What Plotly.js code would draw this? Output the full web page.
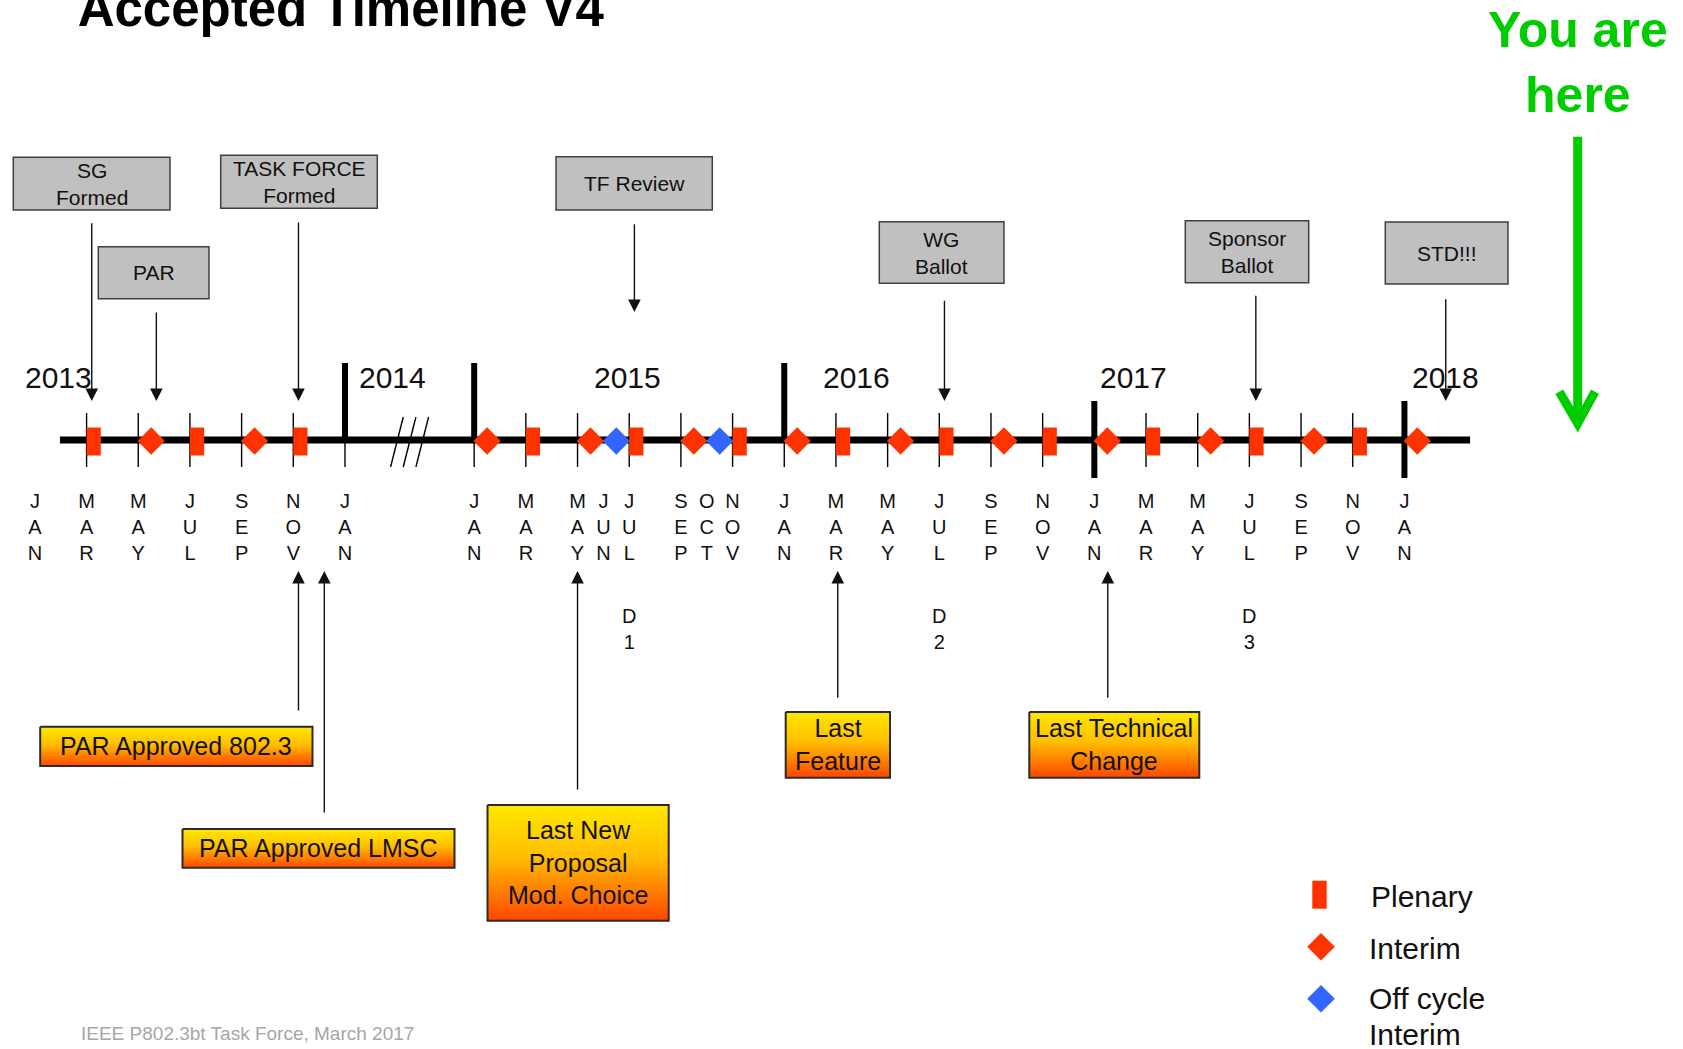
<!DOCTYPE html>
<html><head><meta charset="utf-8">
<script src="https://cdn.plot.ly/plotly-3.0.1.min.js"></script>
<style>html,body{margin:0;padding:0;background:#fff}#chart{width:1683px;height:1049px}</style>
</head><body><div id="chart"></div>
<script>
// ---------------- data ----------------
// timeline position in months (Jan 2013 = 0; the 2014 gap is compressed: Jan 2015 = 17)
const monthPositions = [0,2,4,6,8,10,12,17,19,21,22,23,25,26,27,29,31,33,35,37,39,41,43,45,47,49,51,53];
const monthLabels = ['JAN','MAR','MAY','JUL','SEP','NOV','JAN','JAN','MAR','MAY','JUN','JUL','SEP','OCT','NOV',
                     'JAN','MAR','MAY','JUL','SEP','NOV','JAN','MAR','MAY','JUL','SEP','NOV','JAN'];
const tickMonths = [2,4,6,8,10,12,17,19,21,23,25,27,29,31,33,35,37,39,43,45,47,49,51];
const yearBoundaryAbove = [12,17,29];
const yearBoundaryThrough = [41,53];
const years = ['2013','2014','2015','2016','2017','2018'];
const yearLabelMonths = [0.93,13.84,22.95,31.8,42.53,54.6];
const plenaryMonths = [2,6,10,19,23,27,31,35,39,43,47,51];
const interimMonths = [4.5,8.5,17.5,21.5,25.5,29.5,33.5,37.5,41.5,45.5,49.5,53.5];
const offCycleMonths = [22.5,26.5];
const drafts = ['D1','D2','D3'];
const draftMonths = [23,35,47];
const topMilestones = ['SG<br>Formed','PAR','TASK FORCE<br>Formed','TF Review','WG<br>Ballot','Sponsor<br>Ballot','STD!!!'];
const topMilestoneMonths = [2.2,4.7,10.2,23.2,35.2,47.25,54.6];
const bottomMilestones = ['PAR Approved 802.3','PAR Approved LMSC','Last New<br>Proposal<br>Mod. Choice','Last<br>Feature','Last Technical<br>Change'];
const bottomMilestoneMonths = [10.2,11.2,21,31.07,41.52];
const legendNames = ['Plenary','Interim','Off cycle','Interim'];

// ---------------- layout geometry (pixels) ----------------
const W = 1683, H = 1049;
const X0 = 34.9, K = 25.84;             // pixel of month 0, pixels per month
const P = px => (px - X0) / K;          // pixel -> month units
const PX = px => px / W;                // pixel -> paper x
const LINE_Y = 440;
const RED = '#ff3300', BLUE = '#3366ff';
const FONT = 'Liberation Sans, Arial, sans-serif';

// [x0, x1, y0, y1, arrowTail, arrowTip]
const topBoxes = [
  [13.3,170,157.3,210,221.7,401],
  [98.3,209,246.7,298.7,311,401],
  [220.7,377.3,155.3,208.3,221,401],
  [556,712.3,156.7,210,222.7,312],
  [879.3,1004,221.7,283.3,299.3,401],
  [1185.3,1308.7,220.7,282.7,294.3,401],
  [1385.3,1508,222,284,297.7,401]
];
const bottomBoxes = [
  [40.2,312.5,726.7,766,712,571],
  [182.5,454.5,829,867.7,814,571],
  [487.5,668.7,805,920.7,791,571],
  [785.7,890,712,777.7,699.3,571],
  [1029.3,1199.3,712,777.7,699.3,571]
];

const shapes = [];
const annotations = [];

// main timeline line
shapes.push({type:'line', xref:'x', yref:'y', x0:0.97, x1:55.54, y0:LINE_Y, y1:LINE_Y,
  line:{color:'#000', width:7}, layer:'below'});
// month ticks
tickMonths.forEach(m => shapes.push({type:'line', xref:'x', yref:'y', x0:m, x1:m, y0:413, y1:467,
  line:{color:'#000', width:1.4}, layer:'below'}));
yearBoundaryAbove.forEach(m => shapes.push({type:'line', xref:'x', yref:'y', x0:m, x1:m, y0:363, y1:LINE_Y,
  line:{color:'#000', width:6}, layer:'below'}));
yearBoundaryThrough.forEach(m => shapes.push({type:'line', xref:'x', yref:'y', x0:m, x1:m, y0:401, y1:478,
  line:{color:'#000', width:6}, layer:'below'}));
// axis break slashes, centred in the gap between Jan 2014 and Jan 2015
const breakMid = (12 + 17) / 2;
[-0.49, 0, 0.49].forEach(d => shapes.push({type:'line', xref:'x', yref:'y',
  x0:breakMid + d - 0.245, y0:467, x1:breakMid + d + 0.245, y1:417, line:{color:'#000', width:1.4}, layer:'below'}));

// top grey boxes + arrows
topBoxes.forEach((b, i) => {
  shapes.push({type:'rect', xref:'paper', yref:'y', x0:PX(b[0]), x1:PX(b[1]), y0:b[2], y1:b[3],
    fillcolor:'#c0c0c0', line:{color:'#404040', width:1.5}, layer:'above'});
  annotations.push({xref:'paper', yref:'y', x:PX((b[0]+b[1])/2), y:(b[2]+b[3])/2, text:topMilestones[i],
    showarrow:false, font:{family:FONT, size:21, color:'#111'}, xanchor:'center', yanchor:'middle'});
  annotations.push({xref:'x', yref:'y', axref:'x', ayref:'y', x:topMilestoneMonths[i], y:b[5],
    ax:topMilestoneMonths[i], ay:b[4], text:'', font:{size:1}, showarrow:true, arrowhead:2, arrowsize:1.8,
    arrowwidth:1.4, arrowcolor:'#111', standoff:0});
});

// bottom orange boxes (gradient traces) + arrows
const gradientTraces = [];
bottomBoxes.forEach((b, i) => {
  const xa = P(b[0]), xb = P(b[1]);
  gradientTraces.push({type:'scatter', mode:'lines', x:[xa,xb,xb,xa,xa], y:[b[2],b[2],b[3],b[3],b[2]],
    fill:'toself', line:{color:'#2b2b2b', width:2},
    fillgradient:{type:'vertical', start:b[2], stop:b[3],
      colorscale:[[0,'#ffe800'],[0.45,'#ffbe00'],[1,'#ff4600']]},
    hoverinfo:'skip', showlegend:false});
  annotations.push({xref:'paper', yref:'y', x:PX((b[0]+b[1])/2), y:(b[2]+b[3])/2, text:bottomMilestones[i],
    showarrow:false, font:{family:FONT, size:25, color:'#111'}, xanchor:'center', yanchor:'middle'});
  annotations.push({xref:'x', yref:'y', axref:'x', ayref:'y', x:bottomMilestoneMonths[i], y:b[5],
    ax:bottomMilestoneMonths[i], ay:b[4], text:'', font:{size:1}, showarrow:true, arrowhead:2, arrowsize:1.8,
    arrowwidth:1.4, arrowcolor:'#111', standoff:0});
});

// year labels
years.forEach((y, i) => annotations.push({xref:'x', yref:'y', x:yearLabelMonths[i], y:377.9, text:y,
  showarrow:false, font:{family:FONT, size:30, color:'#111'}, xanchor:'center', yanchor:'middle'}));
// draft labels
drafts.forEach((d, i) => annotations.push({xref:'x', yref:'y', x:draftMonths[i], y:629,
  text:d.split('').join('<br>'), showarrow:false, font:{family:FONT, size:20, color:'#111'},
  xanchor:'center', yanchor:'middle'}));

// "You are here"
annotations.push({xref:'paper', yref:'y', x:PX(1577.7), y:62.7, text:'<b>You are<br>here</b>', showarrow:false,
  font:{family:FONT, size:50, color:'#00cc00'}, xanchor:'center', yanchor:'middle'});
shapes.push({type:'line', xref:'paper', yref:'y', x0:PX(1577.7), x1:PX(1577.7), y0:136.7, y1:419,
  line:{color:'#00cc00', width:9}});
shapes.push({type:'path', xref:'paper', yref:'y',
  path:`M${PX(1559.3)},391.7 L${PX(1577.7)},423.3 L${PX(1595)},391.7`, line:{color:'#00cc00', width:9}});

// legend glyphs + text
shapes.push({type:'rect', xref:'paper', yref:'y', x0:PX(1312.3), x1:PX(1326.7), y0:880.7, y1:908.7,
  fillcolor:RED, line:{width:0}});
[[946.7, RED],[998.7, BLUE]].forEach(([cy, c]) => shapes.push({type:'path', xref:'paper', yref:'y',
  path:`M${PX(1321-13.8)},${cy} L${PX(1321)},${cy-13.8} L${PX(1321+13.8)},${cy} L${PX(1321)},${cy+13.8} Z`,
  fillcolor:c, line:{width:0}}));
[[1369,896.3],[1367,948],[1367,998.6],[1367,1034.6]].forEach(([lx, ly], i) => annotations.push({
  xref:'paper', yref:'y', x:PX(lx), y:ly, text:legendNames[i], showarrow:false,
  font:{family:FONT, size:30, color:'#111'}, xanchor:'left', yanchor:'middle'}));

// footer
annotations.push({xref:'paper', yref:'y', x:PX(78.5), y:1033, text:'IEEE P802.3bt Task Force, March 2017',
  showarrow:false, font:{family:FONT, size:19, color:'#a6a6a6'}, xanchor:'left', yanchor:'middle'});

// ---------------- traces ----------------
const traces = [
  {type:'bar', name:'Plenary', x:plenaryMonths, y:plenaryMonths.map(() => 28), base:427.5, width:0.55, offset:0,
   marker:{color:RED, line:{width:0}}, hoverinfo:'skip', showlegend:false},
  {type:'scatter', mode:'markers', name:'Interim', x:interimMonths, y:interimMonths.map(() => 441),
   marker:{symbol:'diamond', size:21, color:RED, line:{width:0}}, hoverinfo:'skip', showlegend:false},
  {type:'scatter', mode:'markers', name:'Off cycle Interim', x:offCycleMonths, y:offCycleMonths.map(() => 441),
   marker:{symbol:'diamond', size:21, color:BLUE, line:{width:0}}, hoverinfo:'skip', showlegend:false}
].concat(gradientTraces);

const layout = {
  width:W, height:H, margin:{l:0, r:0, t:0, b:0},
  paper_bgcolor:'#fff', plot_bgcolor:'#fff', showlegend:false, hovermode:false,
  font:{family:FONT},
  title:{text:'<b>Accepted Timeline V4</b>', font:{family:FONT, size:51, color:'#000'},
    x:PX(340.8), xref:'paper', xanchor:'center', y:1 - 8.3 / H, yref:'container', yanchor:'middle'},
  xaxis:{range:[P(0), P(W)], showgrid:false, zeroline:false, showline:false, ticks:'',
    tickmode:'array', tickvals:monthPositions, ticktext:monthLabels.map(s => s.split('').join('<br>')),
    tickangle:0, tickfont:{family:FONT, size:20, color:'#111'}, anchor:'free', position:1 - 487 / H,
    fixedrange:true},
  yaxis:{range:[H, 0], visible:false, fixedrange:true},
  shapes:shapes, annotations:annotations
};

Plotly.newPlot('chart', traces, layout, {staticPlot:true, displayModeBar:false});
</script></body></html>
